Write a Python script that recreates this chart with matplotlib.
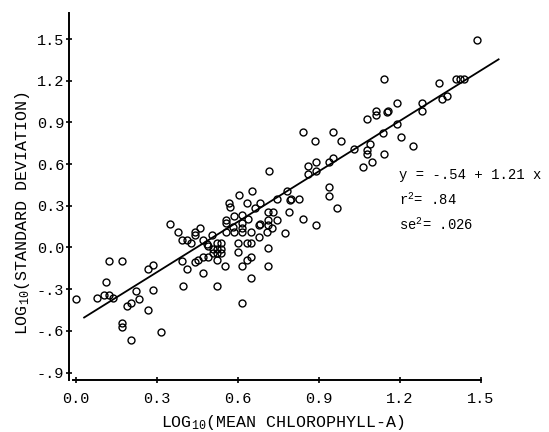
import numpy as np
import matplotlib
matplotlib.use("Agg")
import matplotlib.pyplot as plt

plt.rcParams['font.family'] = ['Liberation Mono', 'DejaVu Sans Mono']
plt.rcParams['mathtext.fontset'] = 'custom'
plt.rcParams['mathtext.rm'] = 'Liberation Mono'
plt.rcParams['mathtext.default'] = 'rm'

# log10 mean chlorophyll-a vs log10 standard deviation
x_left = [0.0, 0.077, 0.105, 0.122, 0.138, 0.11, 0.123, 0.171, 0.171, 0.171,
          0.204, 0.188, 0.204, 0.221, 0.235, 0.268, 0.315, 0.268, 0.284, 0.284,
          0.348, 0.379, 0.394, 0.41, 0.394, 0.41, 0.395]
y_left = [-0.37, -0.365, -0.34, -0.34, -0.365, -0.25, -0.10, -0.10, -0.54, -0.57,
          -0.665, -0.42, -0.40, -0.31, -0.37, -0.45, -0.605, -0.157, -0.126, -0.306,
          0.169, 0.114, 0.054, 0.054, -0.095, -0.157, -0.277]

x_mid = [0.426, 0.441, 0.441, 0.459, 0.472, 0.504, 0.49, 0.521, 0.536, 0.506,
         0.521, 0.536, 0.521, 0.536, 0.506, 0.49, 0.472, 0.453, 0.441, 0.472,
         0.521, 0.552, 0.521, 0.554, 0.554, 0.568, 0.570, 0.586, 0.604, 0.616,
         0.616, 0.632, 0.636, 0.651, 0.663, 0.681, 0.681, 0.556, 0.586, 0.616,
         0.648, 0.678, 0.678, 0.706, 0.712, 0.712, 0.727, 0.743, 0.746, 0.712,
         0.728, 0.715, 0.78, 0.793, 0.79, 0.774, 0.601, 0.632, 0.648, 0.601,
         0.648, 0.632, 0.616, 0.712, 0.712, 0.648, 0.616, 0.581, 0.614, 0.484]
y_mid = [0.03, 0.114, 0.09, 0.138, 0.054, 0.09, 0.009, 0.03, 0.03, -0.013,
         -0.013, -0.013, -0.042, -0.042, -0.042, -0.066, -0.066, -0.09, -0.102, -0.186,
         -0.09, -0.133, -0.277, 0.198, 0.174, 0.322, 0.293, 0.227, 0.378, 0.234,
         0.174, 0.318, 0.203, 0.406, 0.282, 0.318, 0.167, 0.114, 0.114, 0.114,
         0.114, 0.078, 0.162, 0.109, 0.198, 0.165, 0.138, 0.198, 0.347, 0.253,
         0.253, 0.553, 0.406, 0.342, 0.258, 0.107, 0.03, 0.03, 0.03, -0.03,
         -0.066, -0.09, -0.133, -0.006, -0.133, -0.222, -0.40, 0.15, 0.138, 0.023]

x_right = [0.84, 0.951, 0.885, 0.980, 1.077, 1.11, 1.11, 1.153, 1.138, 1.03,
           1.089, 1.079, 1.079, 1.141, 1.095, 1.064, 0.953, 0.938, 0.889, 0.858,
           0.858, 0.889, 0.795, 0.826, 0.84, 0.888, 0.937, 0.937, 0.968, 1.486,
           1.142, 1.343, 1.407, 1.422, 1.437, 1.357, 1.375, 1.28, 1.28, 1.188,
           1.157, 1.188, 1.204, 1.249]
y_right = [0.829, 0.829, 0.768, 0.768, 0.922, 0.953, 0.984, 0.977, 0.826, 0.706,
           0.742, 0.701, 0.673, 0.673, 0.613, 0.581, 0.646, 0.613, 0.613, 0.586,
           0.529, 0.55, 0.347, 0.347, 0.203, 0.162, 0.433, 0.373, 0.286, 1.493,
           1.212, 1.186, 1.212, 1.212, 1.212, 1.066, 1.092, 1.037, 0.982, 1.042,
           0.982, 0.886, 0.797, 0.732]

intercept = -0.54
slope = 1.21
fit_range = [0.03, 1.565]

x_ticks = [0.0, 0.3, 0.6, 0.9, 1.2, 1.5]
x_labels = ['0.0', '0.3', '0.6', '0.9', '1.2', '1.5']
y_ticks = [1.5, 1.2, 0.9, 0.6, 0.3, 0.0, -0.3, -0.6, -0.9]
y_labels = ['1.5', '1.2', '0.9', '0.6', '0.3', '0.0', '-.3', '-.6', '-.9']

xs = np.array(x_left + x_mid + x_right)
ys = np.array(y_left + y_mid + y_right)

fig = plt.figure(figsize=(5.49, 4.32), dpi=100)
ax = fig.add_axes([0.1188, 0.115, 0.8066, 0.8655])

ax.plot(xs, ys, 'o', mfc='none', mec='black', ms=5, mew=1.0)
fx = np.array(fit_range)
ax.plot(fx, intercept + slope * fx, color='black', lw=1.3)

ax.set_xlim(-0.04, 1.60)
ax.set_ylim(-0.97, 1.72)

for s in ['top', 'right']:
    ax.spines[s].set_visible(False)
ax.spines['left'].set_position(('data', -0.026))
ax.spines['left'].set_bounds(-0.955, 1.69)
ax.spines['bottom'].set_position(('data', -0.953))
ax.spines['bottom'].set_bounds(-0.01, 1.5)
ax.spines['left'].set_linewidth(1.4)
ax.spines['bottom'].set_linewidth(1.4)

ax.set_xticks(x_ticks)
ax.set_xticklabels(x_labels)
ax.set_yticks(y_ticks)
ax.set_yticklabels(y_labels)
ax.tick_params(axis='both', direction='inout', length=5, width=1.2, labelsize=11)
ax.tick_params(axis='x', pad=6)
ax.tick_params(axis='y', pad=1)

ax.set_xlabel('LOG$_{10}$(MEAN CHLOROPHYLL-A)', fontsize=12)
ax.xaxis.set_label_coords(0.49, -0.082)
ax.set_ylabel('LOG$_{10}$(STANDARD DEVIATION)', fontsize=12)
ax.yaxis.set_label_coords(-0.075, 0.453)

ax.text(1.195, 0.525, 'y = -.54 + 1.21 x', fontsize=10, va='center')
ax.text(1.195, 0.345, 'r$^2$= .84', fontsize=10, va='center')
ax.text(1.195, 0.165, 'se$^2$= .026', fontsize=10, va='center')

fig.savefig('out.png', dpi=100)
